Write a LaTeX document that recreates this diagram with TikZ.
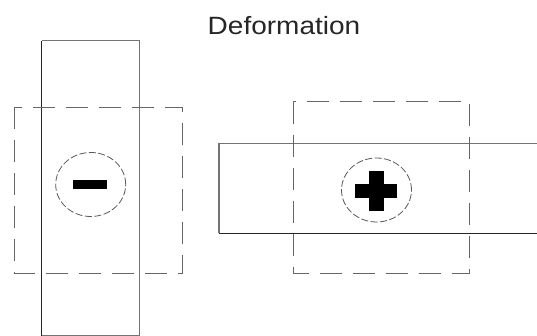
\documentclass[tikz,border=0pt]{standalone}
\usepackage{fontspec}
\setmainfont{Liberation Sans}
\usetikzlibrary{shapes.geometric}
\begin{document}
\begin{tikzpicture}[x=1pt,y=-1pt,
  solidline/.style={draw=black!55,line width=1.1pt},
  darkline/.style={draw=black!85,line width=1.2pt},
  dashbox/.style={draw=black!60,line width=0.9pt,dash pattern=on 22pt off 11pt},
  dashcirc/.style={draw=black!65,line width=0.8pt,dash pattern=on 7pt off 2.5pt,ellipse,minimum width=70pt,minimum height=64pt,inner sep=0pt}]
\useasboundingbox (0,0) rectangle (537,336);
\fill[white] (0,0) rectangle (537,336);
% title
\node[anchor=base,font=\fontsize{25}{25}\selectfont,xscale=1.12,text=black!85] (title) at (284,34.5) {Deformation};
% left: vertical bar
\draw[solidline] (41.7,40.7) -- (139.3,40.7) -- (139.3,335.5) -- (41.7,335.5);
\draw[darkline] (41.7,40.7) -- (41.7,336);
\draw[dashbox] (14.3,107.3) rectangle (182.3,273.3);
\node[dashcirc] (minus) at (90.7,184.5) {};
\fill[black] (72.7,180) rectangle (106.7,189.3);
% right: horizontal bar
\draw[solidline] (537,143.3) -- (219,143.3) -- (219,233.3);
\draw[darkline] (219,233.3) -- (537,233.3);
\draw[dashbox] (293.3,101.7) rectangle (469.3,273.3);
\node[dashcirc] (plus) at (376.5,190) {};
\fill[black] (355,184) rectangle (397,198);
\fill[black] (368.5,171) rectangle (383.5,211);
\end{tikzpicture}
\end{document}
